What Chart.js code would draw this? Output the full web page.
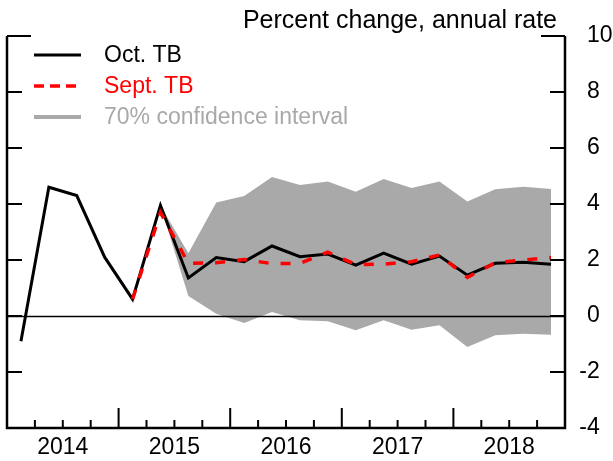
<!DOCTYPE html>
<html><head><meta charset="utf-8">
<script src="https://cdn.jsdelivr.net/npm/chart.js@4"></script>
<style>html,body{margin:0;padding:0;background:#fff}#wrap{width:613px;height:461px;position:relative}</style>
</head><body><div id="wrap"><canvas id="c" width="613" height="461"></canvas></div>
<script>
// ---- data ----
const quarters = ['2014Q1','2014Q2','2014Q3','2014Q4','2015Q1','2015Q2','2015Q3','2015Q4',
  '2016Q1','2016Q2','2016Q3','2016Q4','2017Q1','2017Q2','2017Q3','2017Q4',
  '2018Q1','2018Q2','2018Q3','2018Q4'];
const years = ['2014','2015','2016','2017','2018'];
const yTickValues = [-4,-2,0,2,4,6,8,10];
const octTB = [-0.9, 4.6, 4.3, 2.1, 0.6, 3.95, 1.36, 2.09, 1.94, 2.5, 2.12, 2.21, 1.82, 2.25, 1.85, 2.14, 1.46, 1.88, 1.92, 1.85];
const septTB = [null, null, null, null, 0.6, 3.7, 1.88, 1.9, 2.02, 1.87, 1.88, 2.28, 1.84, 1.85, 1.94, 2.18, 1.38, 1.9, 2.0, 2.09];
const bandUpper = [null, null, null, null, null, 3.95, 2.24, 4.05, 4.29, 4.96, 4.68, 4.80, 4.44, 4.89, 4.57, 4.80, 4.09, 4.53, 4.62, 4.54];
const bandLower = [null, null, null, null, null, 3.95, 0.71, 0.08, -0.25, 0.14, -0.15, -0.19, -0.51, -0.15, -0.49, -0.33, -1.11, -0.69, -0.63, -0.67];
const seriesNames = ['Sept. TB', 'Oct. TB', '70% confidence interval'];
const titleText = 'Percent change, annual rate';

const FONT = '"Liberation Sans", Arial, Helvetica, sans-serif';
const GRAY = '#A9A9A9';
const RED = '#FF0000';

const decor = {
  id: 'decor',
  beforeDatasetDraw(chart, args) {
    if (args.index !== 1) return;
    const {ctx, chartArea: a, scales: {y}} = chart;
    const y0 = Math.round(y.getPixelForValue(0)) + 0.5;
    ctx.save();
    ctx.strokeStyle = '#000'; ctx.lineWidth = 1.3;
    ctx.beginPath(); ctx.moveTo(a.left, y0); ctx.lineTo(a.right, y0); ctx.stroke();
    ctx.restore();
  },
  afterDraw(chart) {
    const {ctx, chartArea: a, scales: {x, y}} = chart;
    ctx.save();
    ctx.strokeStyle = '#000';
    ctx.lineWidth = 2.5;
    ctx.lineCap = 'butt';
    // frame: left, bottom, right
    ctx.beginPath();
    ctx.moveTo(a.left, a.top); ctx.lineTo(a.left, a.bottom);
    ctx.lineTo(a.right, a.bottom); ctx.lineTo(a.right, a.top);
    ctx.stroke();
    // y ticks (inward), both sides
    ctx.lineWidth = 2;
    yTickValues.forEach(v => {
      if (v === yTickValues[0]) return;
      const py = y.getPixelForValue(v);
      const len = v === yTickValues[yTickValues.length - 1] ? 24 : 15;
      ctx.beginPath();
      ctx.moveTo(a.left, py); ctx.lineTo(a.left + len, py);
      ctx.moveTo(a.right, py); ctx.lineTo(a.right - len, py);
      ctx.stroke();
    });
    // x ticks at quarter boundaries
    const c0 = x.getPixelForValue(0), c1 = x.getPixelForValue(1);
    const half = (c1 - c0) / 2;
    const bounds = [];
    for (let i = 0; i <= quarters.length; i++) {
      bounds.push(i < quarters.length ? x.getPixelForValue(i) - half : x.getPixelForValue(quarters.length - 1) + half);
    }
    for (let i = 1; i < quarters.length; i++) {
      const major = i % 4 === 0;
      const len = major ? 20 : 8;
      ctx.beginPath();
      ctx.moveTo(bounds[i], a.bottom); ctx.lineTo(bounds[i], a.bottom - len);
      ctx.stroke();
    }
    // year labels
    ctx.fillStyle = '#000';
    ctx.font = '23px ' + FONT;
    ctx.textAlign = 'center'; ctx.textBaseline = 'middle';
    years.forEach((yr, k) => {
      ctx.fillText(yr, (bounds[4 * k] + bounds[4 * k + 4]) / 2, 448);
    });
    // y labels on right
    const lx = a.right + 22;
    yTickValues.forEach(v => {
      const py = y.getPixelForValue(v);
      const s = String(Math.abs(v));
      ctx.textAlign = 'left';
      ctx.fillText(s, lx, py);
      if (v < 0) { ctx.textAlign = 'right'; ctx.fillText('-', lx, py); }
    });
    // title
    ctx.font = '25px ' + FONT;
    ctx.textAlign = 'right'; ctx.textBaseline = 'alphabetic';
    ctx.fillText(titleText, 557, 28);
    // legend
    const ds = chart.data.datasets;
    const items = [
      {label: ds[1].label, color: ds[1].borderColor, dash: [], w: 3},
      {label: ds[0].label, color: ds[0].borderColor, dash: [10, 6], w: 3.5},
      {label: ds[2].label, color: GRAY, dash: [], w: 4}
    ];
    ctx.font = '23px ' + FONT;
    ctx.textBaseline = 'middle'; ctx.textAlign = 'left';
    items.forEach((it, i) => {
      const ly = 55 + i * 31;
      ctx.strokeStyle = it.color; ctx.lineWidth = it.w; ctx.setLineDash(it.dash);
      ctx.beginPath(); ctx.moveTo(34, ly); ctx.lineTo(81, ly); ctx.stroke();
      ctx.setLineDash([]);
      ctx.fillStyle = it.color;
      ctx.fillText(it.label, 104, ly + 1);
    });
    ctx.restore();
  }
};

new Chart(document.getElementById('c'), {
  type: 'line',
  data: {
    labels: quarters,
    datasets: [
      {label: seriesNames[0], data: septTB, borderColor: RED, borderWidth: 3.5, borderDash: [10, 12],
       pointRadius: 0, fill: false, tension: 0},
      {label: seriesNames[1], data: octTB, borderColor: '#000', borderWidth: 3,
       pointRadius: 0, fill: false, tension: 0},
      {label: seriesNames[2], data: bandUpper, borderWidth: 0, borderColor: 'rgba(0,0,0,0)',
       backgroundColor: GRAY, pointRadius: 0, fill: '+1', tension: 0},
      {label: 'lower', data: bandLower, borderWidth: 0, borderColor: 'rgba(0,0,0,0)',
       backgroundColor: GRAY, pointRadius: 0, fill: false, tension: 0}
    ]
  },
  options: {
    responsive: false,
    devicePixelRatio: 1,
    animation: false,
    layout: {padding: {left: 7, right: 48, top: 36, bottom: 33}},
    plugins: {legend: {display: false}, tooltip: {enabled: false}},
    scales: {
      x: {type: 'category', offset: true, display: false},
      y: {min: -4, max: 10, display: false}
    }
  },
  plugins: [decor]
});
</script>
</body></html>
